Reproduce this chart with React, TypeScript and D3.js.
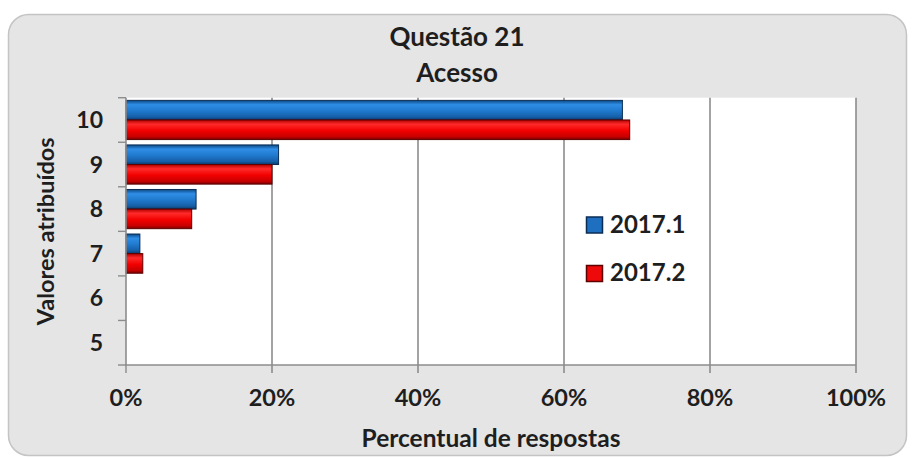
import React from "react";
import * as d3 from "d3";

const categories = ["10", "9", "8", "7", "6", "5"];
const series1Name = "2017.1";
const series2Name = "2017.2";
const series1 = [68.0, 20.9, 9.6, 1.9, 0, 0];
const series2 = [69.0, 20.0, 9.0, 2.3, 0, 0];
const xTicks = [0, 20, 40, 60, 80, 100];
const titleLines = ["Questão 21", "Acesso"];
const xTitle = "Percentual de respostas";
const yTitle = "Valores atribuídos";

const W = 913;
const H = 458;
const plot = { left: 126, right: 856, top: 97.7, bottom: 365 };
const FONT = "Lato, 'Open Sans', sans-serif";

export default function App() {
  const x = d3.scaleLinear().domain([0, 100]).range([plot.left, plot.right]);
  const y = d3
    .scaleBand<string>()
    .domain(categories)
    .range([plot.top, plot.bottom])
    .paddingInner(0.12)
    .paddingOuter(0.06);
  const step = y.step();
  const inner = d3
    .scaleBand<string>()
    .domain([series1Name, series2Name])
    .range([0, y.bandwidth()]);
  const seriesList = [
    { name: series1Name, values: series1, grad: "gBlue", stroke: "#0b2d55", swatch: "#1f6fc0" },
    { name: series2Name, values: series2, grad: "gRed", stroke: "#5c0000", swatch: "#ee0a0a" },
  ];
  const boundaries = d3.range(categories.length + 1).map((i) => plot.top + i * step);

  return (
    <svg
      width={W}
      height={H}
      style={{ position: "absolute", left: 0, top: 0, display: "block" }}
      fontFamily={FONT}
    >
      <defs>
        <linearGradient id="gBlue" x1="0" y1="0" x2="0" y2="1">
          <stop offset="0%" stopColor="#0c4a86" />
          <stop offset="22%" stopColor="#2f8ee6" />
          <stop offset="55%" stopColor="#1f78cc" />
          <stop offset="85%" stopColor="#155ea6" />
          <stop offset="100%" stopColor="#0a3766" />
        </linearGradient>
        <linearGradient id="gRed" x1="0" y1="0" x2="0" y2="1">
          <stop offset="0%" stopColor="#b30000" />
          <stop offset="22%" stopColor="#ff2a2a" />
          <stop offset="55%" stopColor="#f20000" />
          <stop offset="85%" stopColor="#c80000" />
          <stop offset="100%" stopColor="#7a0000" />
        </linearGradient>
      </defs>
      <rect x={0} y={0} width={W} height={H} fill="#ffffff" />
      <rect
        x={8.5}
        y={14.5}
        width={898}
        height={441}
        rx={20}
        ry={20}
        fill="#e5e5e5"
        stroke="#c4c4c4"
        strokeWidth={1.5}
      />
      {titleLines.map((t, i) => (
        <text
          key={t}
          x={457}
          y={45.5 + i * 36}
          textAnchor="middle"
          fontSize={26}
          fontWeight={700}
          fill="#1e1e1e"
        >
          {t}
        </text>
      ))}
      <rect
        x={plot.left}
        y={plot.top}
        width={plot.right - plot.left}
        height={plot.bottom - plot.top}
        fill="#ffffff"
      />
      {xTicks.slice(1).map((t) => (
        <line
          key={"g" + t}
          x1={x(t)}
          x2={x(t)}
          y1={plot.top}
          y2={plot.bottom + 8}
          stroke="#8c8c8c"
          strokeWidth={1.6}
        />
      ))}
      {seriesList.map((s) =>
        categories.map((c, i) =>
          s.values[i] > 0 ? (
            <rect
              key={s.name + c}
              x={x(0)}
              y={(y(c) as number) + (inner(s.name) as number)}
              width={x(s.values[i]) - x(0)}
              height={inner.bandwidth()}
              fill={`url(#${s.grad})`}
              stroke={s.stroke}
              strokeWidth={1}
            />
          ) : null
        )
      )}
      <line x1={plot.left} x2={plot.left} y1={plot.top} y2={plot.bottom} stroke="#8c8c8c" strokeWidth={1.6} />
      <line x1={plot.left - 1} x2={plot.right} y1={plot.bottom} y2={plot.bottom} stroke="#8c8c8c" strokeWidth={1.6} />
      {boundaries.map((b, i) => (
        <line key={"yt" + i} x1={plot.left - 8} x2={plot.left} y1={b} y2={b} stroke="#8c8c8c" strokeWidth={1.4} />
      ))}
      <line x1={x(0)} x2={x(0)} y1={plot.bottom} y2={plot.bottom + 8} stroke="#8c8c8c" strokeWidth={1.4} />
      {categories.map((c) => (
        <text
          key={"yl" + c}
          x={103}
          y={(y(c) as number) + y.bandwidth() / 2 + 8}
          textAnchor="end"
          fontSize={23}
          fontWeight={700}
          fill="#1e1e1e"
        >
          {c}
        </text>
      ))}
      {xTicks.map((t) => (
        <text
          key={"xl" + t}
          x={x(t)}
          y={406}
          textAnchor="middle"
          fontSize={23.5}
          fontWeight={700}
          fill="#1e1e1e"
        >
          {t + "%"}
        </text>
      ))}
      <text
        x={(plot.left + plot.right) / 2}
        y={446.5}
        textAnchor="middle"
        fontSize={24.5}
        fontWeight={700}
        fill="#1e1e1e"
      >
        {xTitle}
      </text>
      <text
        transform={`translate(54, ${(plot.top + plot.bottom) / 2}) rotate(-90)`}
        textAnchor="middle"
        fontSize={23.5}
        fontWeight={700}
        fill="#1e1e1e"
      >
        {yTitle}
      </text>
      {seriesList.map((s, i) => (
        <g key={"lg" + s.name} transform={`translate(586, ${216.5 + i * 48.5})`}>
          <rect x={0.5} y={0.5} width={16} height={16} fill={s.swatch} stroke={s.stroke} strokeWidth={1.5} />
          <text x={24} y={16.3} fontSize={24} fontWeight={700} fill="#1e1e1e">
            {s.name}
          </text>
        </g>
      ))}
    </svg>
  );
}
